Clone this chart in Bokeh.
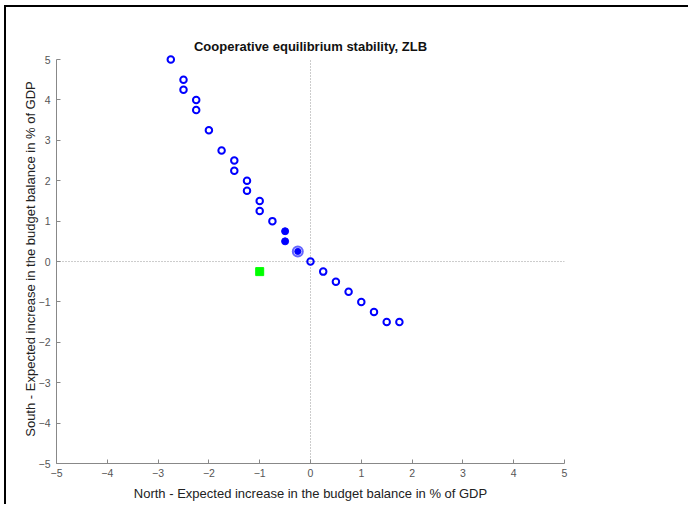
from bokeh.plotting import figure
from bokeh.models import Range1d, FixedTicker
from bokeh.embed import file_html
from bokeh.resources import INLINE

# Data
open_x = [-2.75, -2.5, -2.5, -2.25, -2.25, -2.0, -1.75, -1.5, -1.5, -1.25, -1.25, -1.0, -1.0, -0.75,
          0.0, 0.25, 0.5, 0.75, 1.0, 1.25, 1.5, 1.75]
open_y = [5.0, 4.5, 4.25, 4.0, 3.75, 3.25, 2.75, 2.5, 2.25, 2.0, 1.75, 1.5, 1.25, 1.0,
          0.0, -0.25, -0.5, -0.75, -1.0, -1.25, -1.5, -1.5]
filled_x = [-0.5, -0.5]
filled_y = [0.75, 0.5]
eq_x = [-0.25]
eq_y = [0.25]
nash_x = [-1.0]
nash_y = [-0.25]
ticks = [-5, -4, -3, -2, -1, 0, 1, 2, 3, 4, 5]
axis_min, axis_max = -5, 5

FONT = "Liberation Sans"

p = figure(width=684, height=499, output_backend="svg", toolbar_location=None,
           x_range=Range1d(axis_min, axis_max), y_range=Range1d(axis_min, 5.125),
           min_border_left=50, min_border_right=126, min_border_top=47, min_border_bottom=43,
           title="Cooperative equilibrium stability, ZLB")
p.styles = {"border-top": "2px solid black", "border-left": "2px solid black",
            "margin-top": "5px", "margin-left": "4px"}
p.title.align = "center"
p.title.text_font = FONT
p.title.text_font_size = "13px"
p.title.text_font_style = "bold"
p.title.text_color = "#111111"
p.title.standoff = 2
p.outline_line_color = None
p.xgrid.visible = False
p.ygrid.visible = False
p.background_fill_color = "white"
p.border_fill_color = "white"

for ax in (p.xaxis, p.yaxis):
    ax.ticker = FixedTicker(ticks=ticks)
    ax.bounds = (axis_min, axis_max)
    ax.axis_line_color = "#888888"
    ax.major_tick_line_color = "#888888"
    ax.major_tick_in = 4
    ax.major_tick_out = 0
    ax.minor_tick_line_color = None
    ax.major_label_text_font = FONT
    ax.major_label_text_font_size = "10.5px"
    ax.major_label_text_color = "#555555"
    ax.axis_label_text_font = FONT
    ax.axis_label_text_font_size = "13px"
    ax.axis_label_text_font_style = "normal"
    ax.axis_label_text_color = "#222222"

p.xaxis.axis_label = "North - Expected increase in the budget balance in % of GDP"
p.yaxis.axis_label = "South - Expected increase in the budget balance in % of GDP"
p.xaxis.major_label_standoff = 5
p.yaxis.major_label_standoff = 6
p.xaxis.axis_label_standoff = 6
p.yaxis.axis_label_standoff = -2

# dotted zero lines
p.segment(x0=[0, axis_min], y0=[axis_min, 0], x1=[0, axis_max], y1=[axis_max, 0],
          line_color="#999999", line_dash="1 2", line_width=1)

p.scatter(open_x, open_y, marker="circle", size=6.5, line_color="#0000ff", line_width=2, fill_alpha=0)
p.scatter(filled_x, filled_y, marker="circle", size=7, line_color="#0000ff", fill_color="#0000ff")
p.scatter(eq_x, eq_y, marker="circle", size=10, line_color="#6666ff", line_width=2, fill_color="#ccccff")
p.scatter(eq_x, eq_y, marker="circle", size=6, line_color="#0000ff", fill_color="#0000ff")
p.scatter(nash_x, nash_y, marker="square", size=8, line_color="#00ff00", fill_color="#00ff00")

open("out.html", "w").write(file_html(p, INLINE))
